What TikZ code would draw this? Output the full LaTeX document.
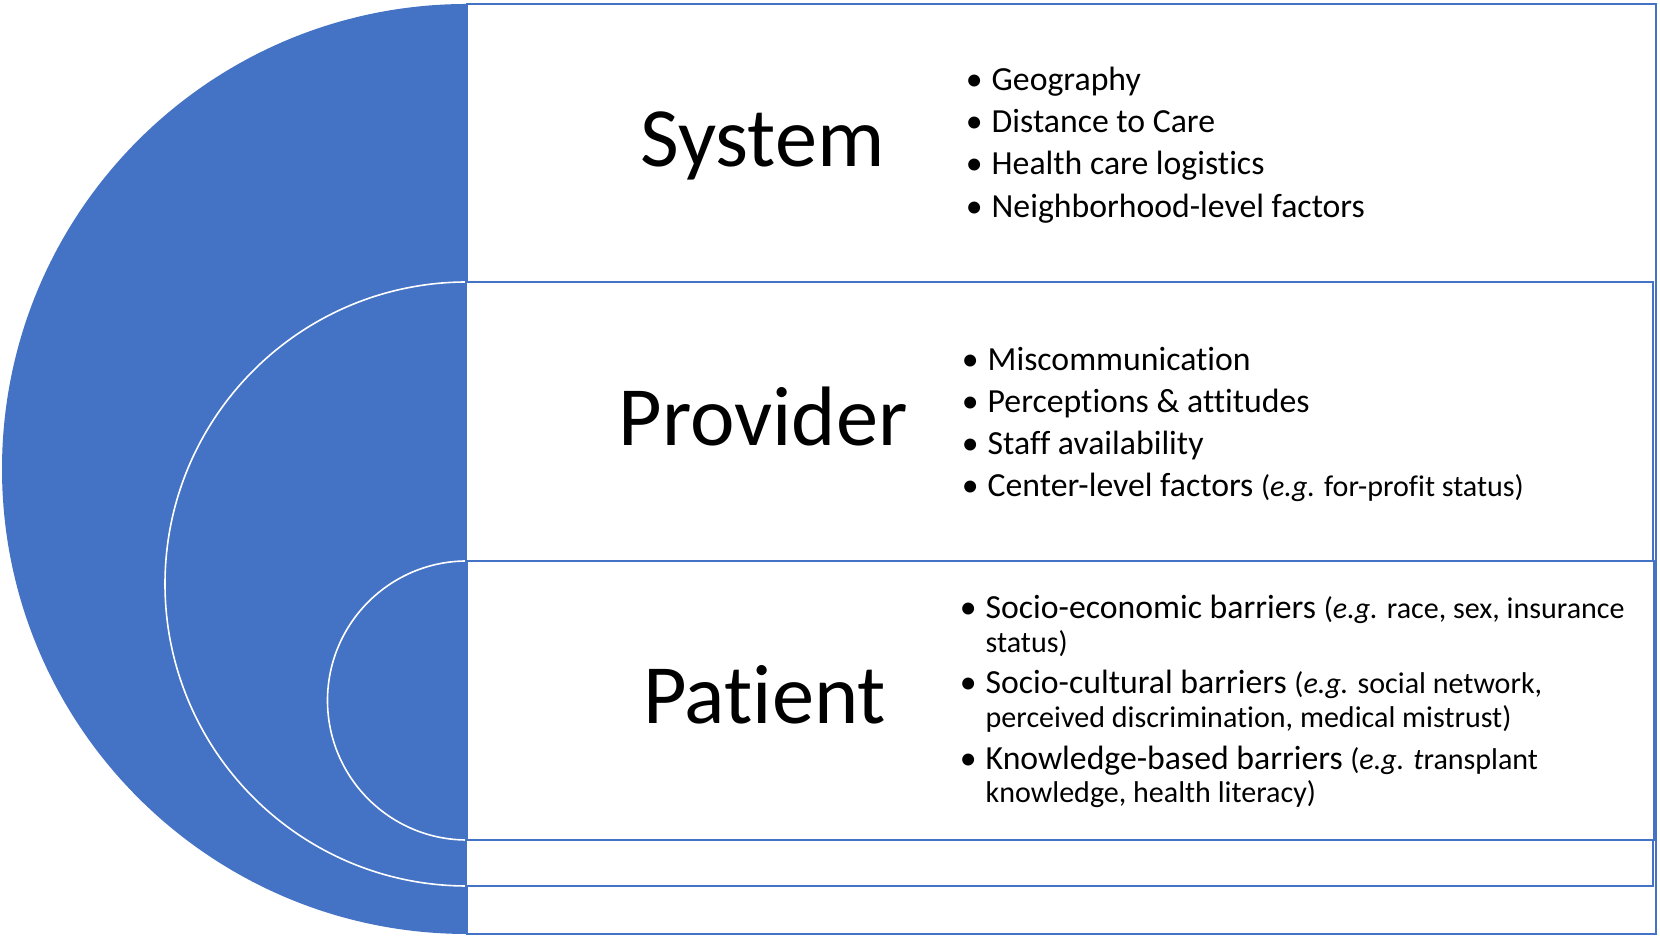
\documentclass[tikz,border=0pt]{standalone}
\usepackage{fontspec}
\setmainfont{Carlito}[Ligatures=NoCommon]
\definecolor{barrierblue}{HTML}{4472C4}
\newcommand{\smalltxt}{\fontsize{8.55}{10}\selectfont}
\newcommand{\bul}{\llap{\textbullet\hspace{0.09cm}}}
\begin{document}
\begin{tikzpicture}[
    heading/.style={anchor=base, inner sep=0pt, font=\fontsize{24}{28}\selectfont},
    item/.style={anchor=base west, inner sep=0pt, font=\fontsize{9.6}{11}\selectfont},
    levelbox/.style={draw=barrierblue, fill=white, line width=0.020cm},
    halfdisk/.style={fill=barrierblue, draw=white, line width=0.016cm}
  ]
                \useasboundingbox (0.000000,0.000000) rectangle (16.600000,9.360000);
                
                % Half disks for the three levels
                \fill [barrierblue] (4.670000,9.320000) arc (90:270:4.650000);%
                \filldraw [halfdisk] (4.670000,6.540000) arc (90:270:3.020000);%
                \filldraw [halfdisk] (4.670000,3.750000) arc (90:270:1.395000);%
                
                % Boxes System, Provider, Patient
                \draw [levelbox] (4.670000,0.020000) rectangle (16.560000,9.320000);%
                \draw [levelbox] (4.660000,0.500000) rectangle (16.530000,6.540000);%
                \draw [levelbox] (4.670000,0.960000) rectangle (16.540000,3.750000);%
                
                % Headings
                \draw (7.625000,7.690000) node (system) [heading] {System};%
                \draw (7.630000,4.900000) node (provider) [heading] {Provider};%
                \draw (7.645000,2.120000) node (patient) [heading] {Patient};%
                
                % Items of System
                \draw (9.910000,8.450000) node (sysA) [item] {\bul Geography};%
                \draw (9.910000,8.030000) node (sysB) [item] {\bul Distance to Care};%
                \draw (9.910000,7.610000) node (sysC) [item] {\bul Health care logistics};%
                \draw (9.910000,7.180000) node (sysD) [item] {\bul Neighborhood-level factors};%
                
                % Items of Provider
                \draw (9.870000,5.650000) node (provA) [item] {\bul Miscommunication};%
                \draw (9.870000,5.230000) node (provB) [item] {\bul Perceptions \& attitudes};%
                \draw (9.870000,4.810000) node (provC) [item] {\bul Staff availability};%
                \draw (9.870000,4.390000) node (provD) [item] {\bul Center-level factors {\smalltxt(\textit{e.g.} for-profit status)}};%
                
                % Items of Patient
                \draw (9.850000,3.170000) node (patA) [item] {\bul Socio-economic barriers {\smalltxt(\textit{e.g.} race, sex, insurance}};%
                \draw (9.850000,2.830000) node (patAb) [item] {\smalltxt status)};%
                \draw (9.850000,2.420000) node (patB) [item] {\bul Socio-cultural barriers {\smalltxt(\textit{e.g.} social network,}};%
                \draw (9.850000,2.080000) node (patBb) [item] {\smalltxt perceived discrimination, medical mistrust)};%
                \draw (9.850000,1.660000) node (patC) [item] {\bul Knowledge-based barriers {\smalltxt(\textit{e.g. t}ransplant}};%
                \draw (9.850000,1.330000) node (patCb) [item] {\smalltxt knowledge, health literacy)};%
\end{tikzpicture}
\end{document}
